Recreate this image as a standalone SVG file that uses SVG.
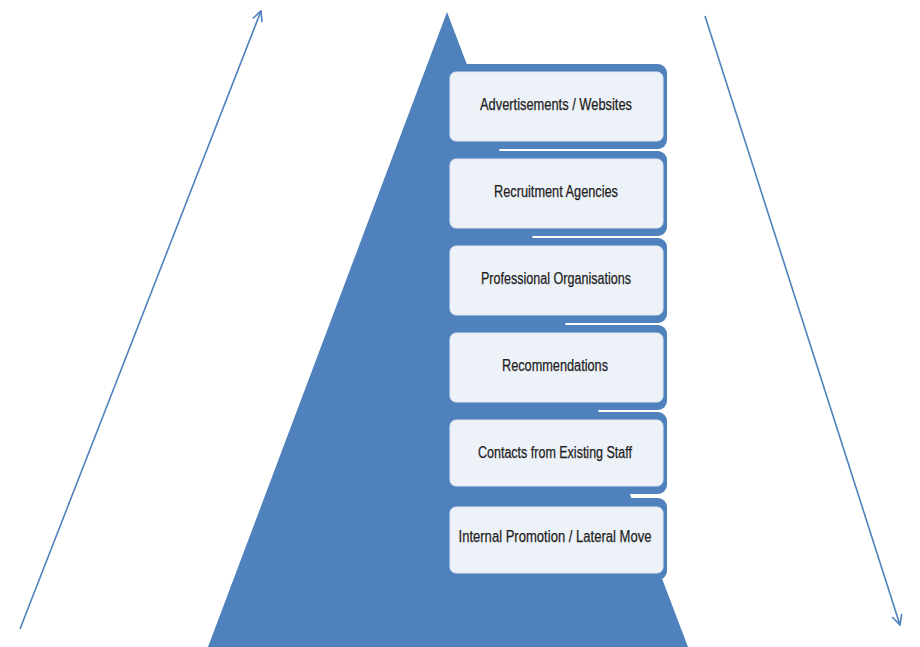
<svg xmlns="http://www.w3.org/2000/svg" width="920" height="647" viewBox="0 0 920 647">
<style>
.frame{fill:#4f81bd}
.card{fill:#edf1f8;stroke:#dfe6f2;stroke-width:1}
.lbl{font-family:"Liberation Sans",Arial,sans-serif;font-size:16px;fill:#1e1e1e;stroke:#1e1e1e;stroke-width:0.25;text-anchor:middle;dominant-baseline:central}
.arr{stroke:#4f81bd;stroke-width:1.6;fill:none;marker-end:url(#ah)}
</style>
<defs>
<marker id="ah" viewBox="0 0 12 12" refX="11" refY="6" markerWidth="12" markerHeight="12" markerUnits="userSpaceOnUse" orient="auto">
<path d="M1,1 L11,6 L1,11" fill="none" stroke="#4f81bd" stroke-width="1.6"/>
</marker>
</defs>
<rect width="920" height="647" fill="#fff"/>
<polygon id="pyramid" points="447,12 208,647 688,647" fill="#4f81bd"/>
<g id="connectors">
<line class="arr" x1="20" y1="629" x2="261" y2="11"/>
<line class="arr" x1="705" y1="16" x2="900" y2="625"/>
</g>
<g id="n1"><rect class="frame" x="446" y="64" width="221" height="85" rx="9"/><rect class="card" x="450" y="72" width="213" height="69" rx="6"/><text class="lbl" x="556" y="104" textLength="152" lengthAdjust="spacingAndGlyphs">Advertisements / Websites</text></g>
<g id="n2"><rect class="frame" x="446" y="151" width="221" height="85" rx="9"/><rect class="card" x="450" y="159" width="213" height="69" rx="6"/><text class="lbl" x="556" y="191" textLength="124" lengthAdjust="spacingAndGlyphs">Recruitment Agencies</text></g>
<g id="n3"><rect class="frame" x="446" y="238" width="221" height="85" rx="9"/><rect class="card" x="450" y="246" width="213" height="69" rx="6"/><text class="lbl" x="556" y="278" textLength="150" lengthAdjust="spacingAndGlyphs">Professional Organisations</text></g>
<g id="n4"><rect class="frame" x="446" y="325" width="221" height="85" rx="9"/><rect class="card" x="450" y="333" width="213" height="69" rx="6"/><text class="lbl" x="555" y="365" textLength="106" lengthAdjust="spacingAndGlyphs">Recommendations</text></g>
<g id="n5"><rect class="frame" x="446" y="412" width="221" height="82" rx="9"/><rect class="card" x="450" y="420" width="213" height="66" rx="6"/><text class="lbl" x="555" y="452" textLength="154" lengthAdjust="spacingAndGlyphs">Contacts from Existing Staff</text></g>
<g id="n6"><rect class="frame" x="446" y="498" width="221" height="82" rx="9"/><rect class="card" x="450" y="507" width="213" height="66" rx="6"/><text class="lbl" x="555" y="536" textLength="193" lengthAdjust="spacingAndGlyphs">Internal Promotion / Lateral Move</text></g>
</svg>
